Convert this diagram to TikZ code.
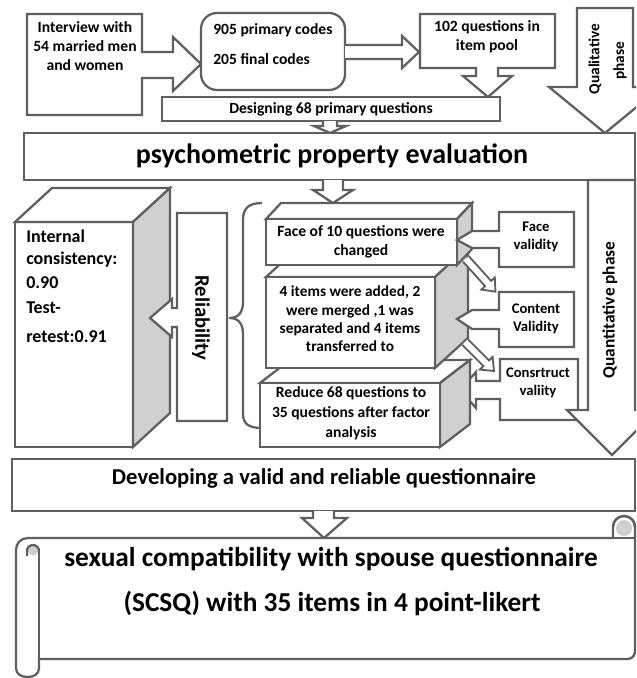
\documentclass[tikz,border=0pt]{standalone}
\usepackage{fontspec}
\setmainfont{Carlito}
\definecolor{lc}{HTML}{5F5F5F}
\definecolor{gf}{HTML}{D0D0D0}
\begin{document}
\begin{tikzpicture}[x=0.75pt,y=-0.75pt,
 sh/.style={draw=lc, line width=1.7pt, fill=white, line join=miter},
 gs/.style={draw=lc, line width=1.7pt, fill=gf, line join=miter},
 ln/.style={draw=lc, line width=1.7pt},
 tx/.style={font=\bfseries\fontsize{11.7}{14}\selectfont, align=center, text=black, inner sep=0pt},
 tr/.style={font=\bfseries\fontsize{11}{14}\selectfont, align=center, text=black, inner sep=0pt},
 tl/.style={font=\bfseries\fontsize{13.5}{15}\selectfont, anchor=west, text=black, inner sep=0pt},
]
\useasboundingbox (0,0) rectangle (636,678);
\clip (0,0) rectangle (636,678);

% ---------- top row ----------
\draw[sh] (27,14) -- (142,14) -- (142,52) -- (173,52) -- (173,37) -- (201,64) -- (173,91) -- (173,78) -- (142,78) -- (142,115) -- (27,115) -- cycle;
\node[tx] (interview) at (85,46) {Interview with\\54 married men\\and women};

\draw[sh, rounded corners=12] (201,13) rectangle (345,90);
\node[tx, anchor=west] (codesA) at (213,30) {905 primary codes};
\node[tx, anchor=west] (codesB) at (213,59) {205 final codes};

\draw[sh] (345,45) -- (402,45) -- (402,36) -- (419,52) -- (402,68) -- (402,59) -- (345,59);

\draw[sh] (420,14) -- (555,14) -- (555,68) -- (498,68) -- (498,76) -- (512,76) -- (488,97) -- (463,76) -- (476,76) -- (476,68) -- (420,68) -- cycle;
\node[tx] (pool) at (487,37) {102 questions in\\item pool};

\draw[sh] (162,97) rectangle (500,121);
\node[tx] (design) at (331,109) {Designing 68 primary questions};
\draw[sh] (323,121) -- (323,126) -- (314,126) -- (330,133) -- (346,126) -- (337,126) -- (337,121);

% qualitative phase arrow
\draw[sh] (577,8) -- (633,8) -- (633,87) -- (661,87) -- (605,133) -- (549,87) -- (577,87) -- cycle;
\node[tx, rotate=90, font=\bfseries\fontsize{11.5}{13}\selectfont] (qual1) at (595,59) {Qualitative};
\node[tx, rotate=90, font=\bfseries\fontsize{11.5}{13}\selectfont] (qual2) at (620,61) {phase};

% psychometric
\draw[sh] (24,133) rectangle (635,180);
\node[tx, font=\bfseries\fontsize{21}{23}\selectfont] (psy) at (332,156) {psychometric property evaluation};
\draw[sh] (323,180) -- (323,190) -- (313,190) -- (333,203) -- (353,190) -- (343,190) -- (343,180);

% construct validity box (behind quantitative arrow)
\draw[sh] (500,359) -- (578,359) -- (578,420) -- (500,420) -- (500,399) -- (476,399) -- (476,408) -- (460,390) -- (476,372) -- (476,381) -- (500,381) -- cycle;
\node[tr] (csv) at (538,383) {Consrtruct\\valiity};

% quantitative phase arrow
\draw[sh] (588,180) -- (635,180) -- (635,410) -- (657,410) -- (612,455) -- (567,410) -- (588,410) -- cycle;
\node[tx, rotate=90, font=\bfseries\fontsize{13}{15}\selectfont] (quant) at (610,310) {Quantitative phase};

% ---------- left 3D box ----------
\draw[sh] (15,222) rectangle (133,447);
\draw[sh] (15,222) -- (52,188) -- (170,188) -- (133,222) -- cycle;
\draw[gs] (133,222) -- (170,188) -- (170,413) -- (133,447) -- cycle;
\node[tl] (ic1) at (26,236) {Internal};
\node[tl] (ic2) at (26,260) {consistency:};
\node[tl] (ic3) at (26,283) {0.90};
\node[tl] (tr1) at (26,308) {Test-};
\node[tl] (tr2) at (26,337) {retest:0.91};

% reliability
\draw[sh] (177,213) -- (227,213) -- (227,421) -- (177,421) -- (177,327) -- (172,327) -- (172,337) -- (150,318) -- (172,299) -- (172,308) -- (177,308) -- cycle;
\node[tx, rotate=-90, font=\bfseries\fontsize{15.5}{17}\selectfont] (rel) at (201,318) {Reliability};

% brace
\draw[ln, fill=none] (262,203) .. controls (249,203) and (243,208) .. (243,220) -- (243,302) .. controls (243,313) and (238,318) .. (229,318) .. controls (238,318) and (243,323) .. (243,334) -- (243,414) .. controls (243,424) and (249,428) .. (262,428);

% ---------- middle 3D boxes ----------
% C
\draw[sh] (260,383) -- (290,360) -- (470,360) -- (440,383) -- cycle;
\draw[gs] (440,383) -- (470,360) -- (470,424) -- (440,447) -- cycle;
\draw[sh] (260,383) rectangle (440,447);
% B
\draw[sh] (266,277) -- (299,247) -- (468,247) -- (435,277) -- cycle;
\draw[gs] (435,277) -- (468,247) -- (468,338) -- (435,368) -- cycle;
\draw[sh] (266,277) rectangle (435,368);
% A
\draw[sh] (266,219) -- (281,203) -- (472,203) -- (457,219) -- cycle;
\draw[gs] (457,219) -- (472,203) -- (472,249) -- (457,265) -- cycle;
\draw[sh] (266,219) rectangle (457,265);

\node[tx, font=\bfseries\fontsize{11.7}{14.3}\selectfont] (fa) at (361,242) {Face of 10 questions were\\changed};
\node[tx, font=\bfseries\fontsize{11.5}{13.7}\selectfont] (fb) at (350,319) {4 items were added, 2\\were merged ,1 was\\separated and 4 items\\transferred to};
\node[tx, font=\bfseries\fontsize{11.7}{15}\selectfont] (fc) at (351,413) {Reduce 68 questions to\\35 questions after factor\\analysis};

% ---------- right validity boxes ----------
\draw[sh] (499,212) -- (574,212) -- (574,267) -- (499,267) -- (499,248) -- (472,248) -- (457,240) -- (472,231) -- (499,231) -- cycle;
\node[tr] (fv) at (536,237) {Face\\validity};
\draw[sh] (499,292) -- (574,292) -- (574,347) -- (499,347) -- (499,329) -- (472,329) -- (457,319) -- (472,310) -- (499,310) -- cycle;
\node[tr] (cv) at (536,319) {Content\\Validity};

% diagonal hollow arrows
\begin{scope}[shift={(466,259)}, rotate=-48]
\draw[sh, line width=1.4pt] (0,-4) -- (33,-4) -- (33,-9) -- (44,0) -- (33,9) -- (33,4) -- (0,4);
\end{scope}
\begin{scope}[shift={(465,342)}, rotate=-45]
\draw[sh, line width=1.4pt] (0,-4) -- (30,-4) -- (30,-9) -- (41,0) -- (30,9) -- (30,4) -- (0,4);
\end{scope}

% ---------- bottom ----------
\draw[sh] (12,459) rectangle (635,511);
\node[tx, font=\bfseries\fontsize{17}{19}\selectfont] (dev) at (324,478) {Developing a valid and reliable questionnaire};
\draw[sh] (313,511) -- (313,518) -- (302,518) -- (324,538) -- (347,518) -- (334,518) -- (334,511);

% scroll
\draw[sh] (39,659) -- (627,659) .. controls (632,659) and (635,656) .. (635,651) -- (635,527) arc (0:-180:11) -- (613,538) -- (28,538) .. controls (21,538) and (16,543) .. (16,550) -- (16,668) .. controls (16,674) and (21,677) .. (27.5,677) .. controls (34,677) and (39,674) .. (39,668) -- cycle;
\draw[ln] (39,551) -- (39,668);
\fill[gf] (624,528) circle (8);
\draw[ln] (635,527) arc (0:-180:11);
\draw[ln] (613,538) -- (635,538);
\fill[gf] (33,550) circle (5.5);
\draw[ln] (39,551) arc (0:-180:6) -- (27,556);
\node[tx, font=\bfseries\fontsize{20.5}{22}\selectfont] (s1) at (331,559) {sexual compatibility with spouse questionnaire};
\node[tx, font=\bfseries\fontsize{20.5}{22}\selectfont] (s2) at (332,603) {(SCSQ) with 35 items in 4 point-likert};
\end{tikzpicture}
\end{document}
